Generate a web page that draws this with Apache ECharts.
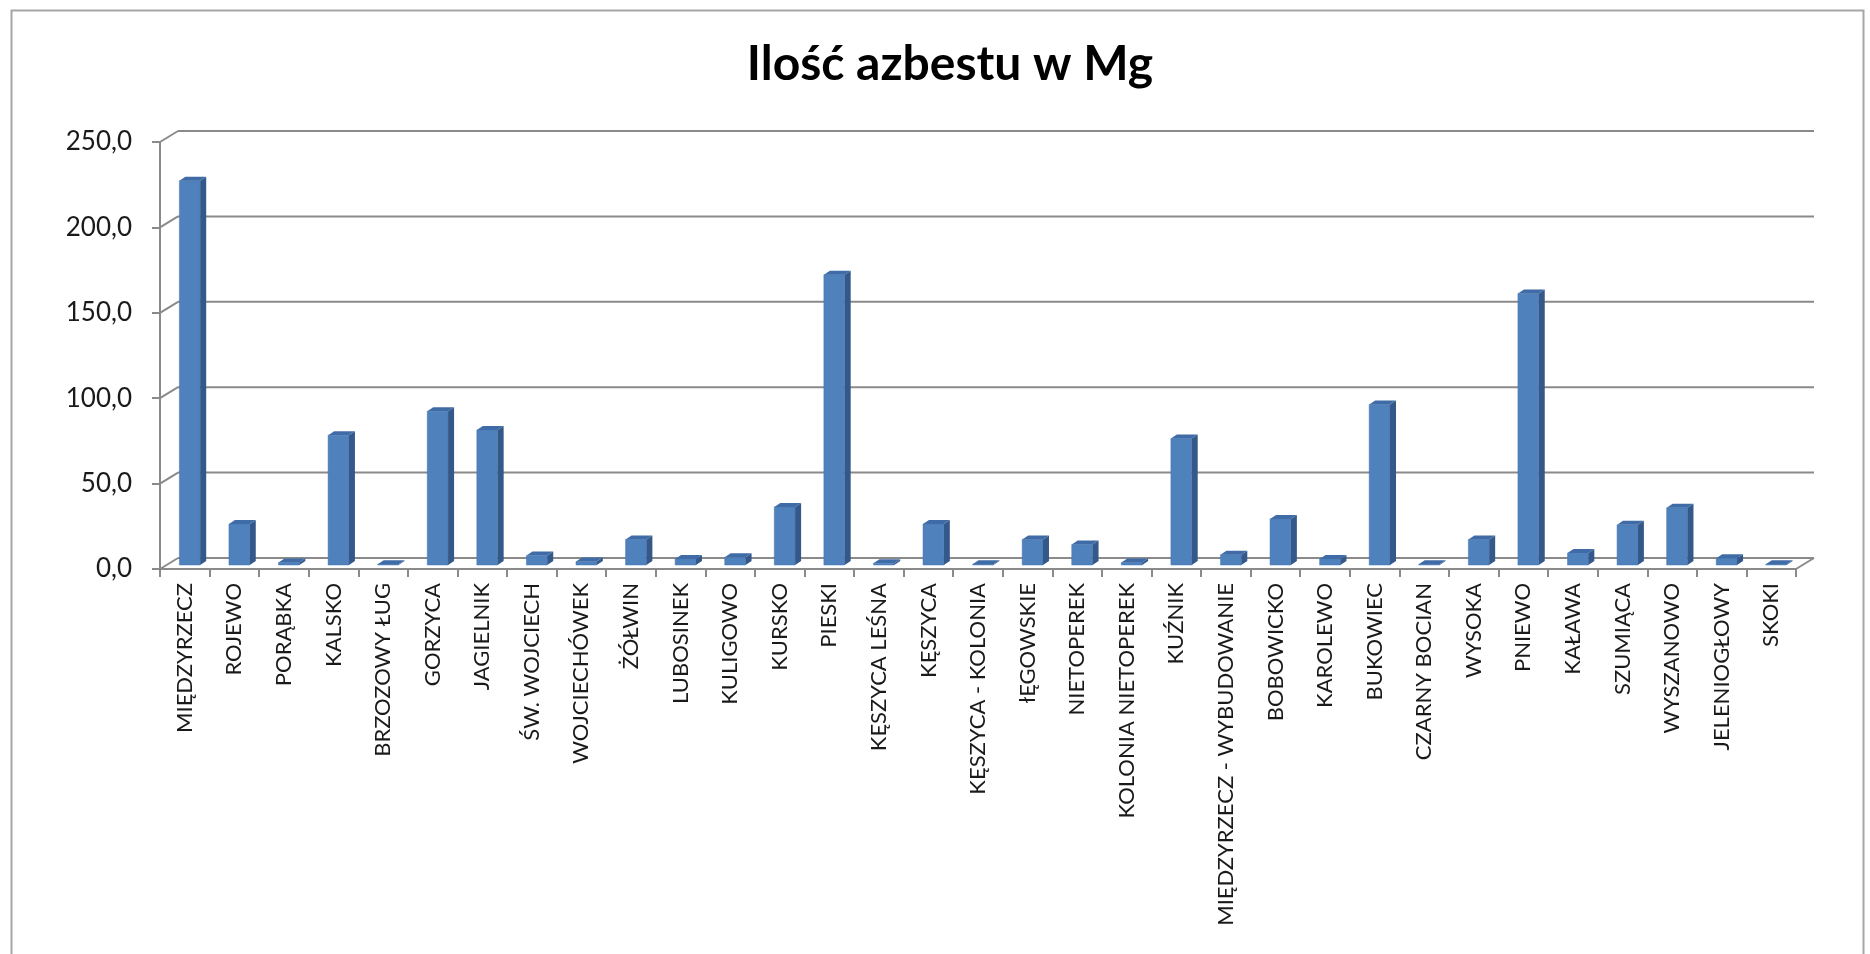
<!DOCTYPE html>
<html>
<head>
<meta charset="utf-8">
<script src="https://cdn.jsdelivr.net/npm/echarts@6/dist/echarts.min.js"></script>
<style>
html,body{margin:0;padding:0;background:#fff;}
#chart{width:1870px;height:954px;}
</style>
</head>
<body>
<div id="chart"></div>
<script>
const titleText = 'Ilość azbestu w Mg';
const categories = ['MIĘDZYRZECZ','ROJEWO','PORĄBKA','KALSKO','BRZOZOWY ŁUG','GORZYCA','JAGIELNIK','ŚW. WOJCIECH','WOJCIECHÓWEK','ŻÓŁWIN','LUBOSINEK','KULIGOWO','KURSKO','PIESKI','KĘSZYCA LEŚNA','KĘSZYCA','KĘSZYCA - KOLONIA','łĘGOWSKIE','NIETOPEREK','KOLONIA NIETOPEREK','KUŹNIK','MIĘDZYRZECZ - WYBUDOWANIE','BOBOWICKO','KAROLEWO','BUKOWIEC','CZARNY BOCIAN','WYSOKA','PNIEWO','KAŁAWA','SZUMIĄCA','WYSZANOWO','JELENIOGŁOWY','SKOKI'];
const values = [225, 24, 1.5, 76, 0.5, 90, 79, 5.5, 2, 15, 3.5, 4.5, 34, 170, 1, 24, 0.5, 15, 12, 1.5, 74, 6, 27, 3.5, 94, 0.5, 15, 159, 7, 23.5, 33.5, 4, 0.5];
const yTicks = [0, 50, 100, 150, 200, 250];

// pseudo-3D look (pixels)
const WALL_DX = 18, WALL_DY = 11;   // back wall offset
const BAR_SHIFT_X = 5, BAR_SHIFT_Y = 4; // bar front face behind axis plane
const BAR_DX = 6, BAR_DY = 4;         // bar depth
const BAR_FRAC = 0.42;

const chart = echarts.init(document.getElementById('chart'), null, {renderer: 'canvas'});

function wallItem(params, api) {
  const cs = params.coordSys;
  const v = api.value(1);
  const y = api.coord([0, v])[1];
  const x0 = cs.x, x1 = cs.x + cs.width;
  const style = {stroke: '#8a8a8a', lineWidth: 2, fill: null};
  const children = [
    {type: 'line', shape: {x1: x0, y1: y, x2: x0 + WALL_DX, y2: y - WALL_DY}, style: style},
    {type: 'line', shape: {x1: x0 + WALL_DX, y1: y - WALL_DY, x2: x1 + WALL_DX, y2: y - WALL_DY}, style: style}
  ];
  if (v === 0) {
    children.push({type: 'line', shape: {x1: x1, y1: y, x2: x1 + WALL_DX, y2: y - WALL_DY}, style: style});
  }
  return {type: 'group', children: children};
}

function barItem(params, api) {
  const i = api.value(0), v = api.value(1);
  const top = api.coord([i, v]);
  const base = api.coord([i, 0]);
  const cw = api.size([1, 0])[0];
  const w = cw * BAR_FRAC;
  const xl = top[0] - w / 2 + BAR_SHIFT_X;
  const xr = xl + w;
  const yt = top[1] - BAR_SHIFT_Y;
  const yb = base[1] - BAR_SHIFT_Y;
  return {
    type: 'group',
    children: [
      {type: 'rect', shape: {x: xl, y: yt, width: w, height: Math.max(0, yb - yt)},
        style: {fill: '#4F81BD', stroke: '#4776ae', lineWidth: 0.5}},
      {type: 'polygon', shape: {points: [[xr, yt], [xr + BAR_DX, yt - BAR_DY], [xr + BAR_DX, yb - BAR_DY], [xr, yb]]},
        style: {fill: '#34588A'}},
      {type: 'polygon', shape: {points: [[xl, yt], [xl + BAR_DX, yt - BAR_DY], [xr + BAR_DX, yt - BAR_DY], [xr, yt]]},
        style: {fill: '#3F6CA6'}}
    ]
  };
}

const option = {
  backgroundColor: '#ffffff',
  animation: false,
  graphic: [
    {type: 'rect', left: 9, top: 8, shape: {width: 1852, height: 1000}, style: {fill: null, stroke: '#a6a6a6', lineWidth: 2}, z: -10},
    {type: 'text', x: 950, y: 65, style: {text: titleText, fill: '#000', font: 'bold 48px Lato', textAlign: 'center', textVerticalAlign: 'middle'}}
  ],
  grid: {left: 160, right: 74, top: 142, bottom: 385, containLabel: false},
  xAxis: {
    type: 'category',
    data: categories,
    boundaryGap: true,
    axisLine: {show: true, lineStyle: {color: '#8a8a8a', width: 2}},
    axisTick: {show: true, length: 8, lineStyle: {color: '#8a8a8a', width: 2}},
    axisLabel: {rotate: 90, interval: 0, margin: 14, fontFamily: 'Lato', fontSize: 22, color: '#1a1a1a'},
    splitLine: {show: false}
  },
  yAxis: {
    type: 'value',
    min: 0, max: 250, interval: 50,
    axisLine: {show: true, lineStyle: {color: '#8a8a8a', width: 2}},
    axisTick: {show: true, length: 8, lineStyle: {color: '#8a8a8a', width: 2}},
    axisLabel: {margin: 28, fontFamily: 'Lato', fontSize: 26, color: '#1a1a1a',
      formatter: function (v) { return v.toFixed(1).replace('.', ','); }},
    splitLine: {show: false}
  },
  series: [
    {type: 'custom', name: 'walls', renderItem: wallItem, clip: false, z: 1,
      data: yTicks.map(function (v) { return [0, v]; }), silent: true},
    {type: 'custom', name: 'Ilość azbestu', renderItem: barItem, clip: false, z: 3,
      data: values.map(function (v, i) { return [i, v]; })}
  ]
};
chart.setOption(option);
</script>
</body>
</html>
